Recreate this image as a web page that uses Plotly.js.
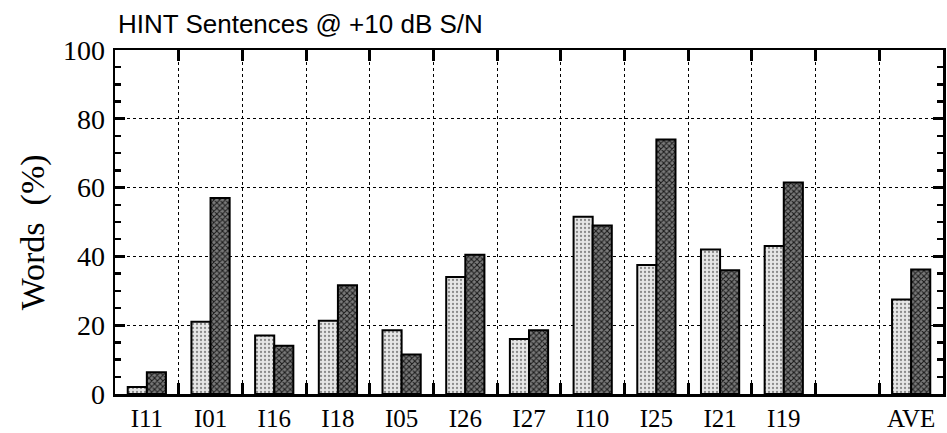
<!DOCTYPE html>
<html>
<head>
<meta charset="utf-8">
<script src="https://cdn.plot.ly/plotly-3.0.1.min.js"></script>
<style>html,body{margin:0;padding:0;background:#fff;}#chart{width:947px;height:433px;}</style>
</head>
<body>
<div id="chart"></div>
<script>
const categories = ['I11','I01','I16','I18','I05','I26','I27','I10','I25','I21','I19',' ','AVE'];
const lightValues = [2, 21, 17, 21.3, 18.5, 34, 16, 51.5, 37.5, 42, 43, null, 27.5];
const darkValues  = [6.3, 57, 14, 31.6, 11.5, 40.5, 18.5, 49, 74, 36, 61.5, null, 36.2];
const yTickStart = 0;
const yTickStep = 20;
const yMinorStep = 5;
const yTitle = 'Words  (%)';
const chartTitle = 'HINT Sentences @ +10 dB S/N';

const serif = '"Liberation Serif", "DejaVu Serif", serif';

const traces = [
  {
    type: 'bar', x: categories, y: lightValues, name: 'light',
    marker: {
      color: '#e6e6e6',
      line: {color: '#000', width: 2},
      pattern: {shape: '.', fgcolor: '#8a8a8a', bgcolor: '#e6e6e6', size: 4, solidity: 0.25}
    },
    hoverinfo: 'x+y'
  },
  {
    type: 'bar', x: categories, y: darkValues, name: 'dark',
    marker: {
      color: '#555',
      line: {color: '#000', width: 2},
      pattern: {shape: 'x', fgcolor: '#1a1a1a', bgcolor: '#7a7a7a', size: 4, solidity: 0.45}
    },
    hoverinfo: 'x+y'
  }
];

const layout = {
  width: 947, height: 433,
  margin: {l: 115, r: 4, t: 50, b: 39, pad: 0},
  paper_bgcolor: '#fff', plot_bgcolor: '#fff',
  showlegend: false,
  barmode: 'group', bargap: 0.4, bargroupgap: 0,
  title: {
    text: chartTitle,
    font: {family: '"Liberation Sans", Arial, sans-serif', size: 26, color: '#000'},
    x: 0, xref: 'paper', xanchor: 'left', y: 0.965, yref: 'container', yanchor: 'top', pad: {l: 3, t: 0}
  },
  xaxis: {
    type: 'category',
    categoryorder: 'array', categoryarray: categories,
    tickson: 'boundaries', tickangle: 0,
    ticks: 'inside', ticklen: 11, tickwidth: 3, tickcolor: '#000',
    showline: true, linewidth: 2.5, linecolor: '#000', mirror: 'ticks',
    showgrid: true, gridcolor: '#000', gridwidth: 1, griddash: 'dot',
    tickfont: {family: serif, size: 25, color: '#000'},
    zeroline: false, fixedrange: true, layer: 'above traces'
  },
  yaxis: {
    range: [0, 100],
    tickmode: 'linear', tick0: yTickStart, dtick: yTickStep,
    ticks: 'inside', ticklen: 10, tickwidth: 3, tickcolor: '#000',
    minor: {tickmode: 'linear', dtick: yMinorStep, tick0: yTickStart, ticks: 'inside', ticklen: 6, tickwidth: 2.5, tickcolor: '#000', showgrid: false},
    showline: true, linewidth: 2.5, linecolor: '#000', mirror: 'ticks',
    showgrid: true, gridcolor: '#000', gridwidth: 1, griddash: 'dot',
    tickfont: {family: serif, size: 28, color: '#000'},
    ticklabelstandoff: 2,
    zeroline: false, fixedrange: true, layer: 'above traces'
  },
  annotations: [{
    text: yTitle, textangle: -90,
    xref: 'paper', yref: 'paper', x: -0.099, y: 0.47,
    xanchor: 'center', yanchor: 'middle', showarrow: false,
    font: {family: serif, size: 34, color: '#000'}
  }]
};

Plotly.newPlot('chart', traces, layout, {displayModeBar: false, staticPlot: true});
</script>
</body>
</html>
